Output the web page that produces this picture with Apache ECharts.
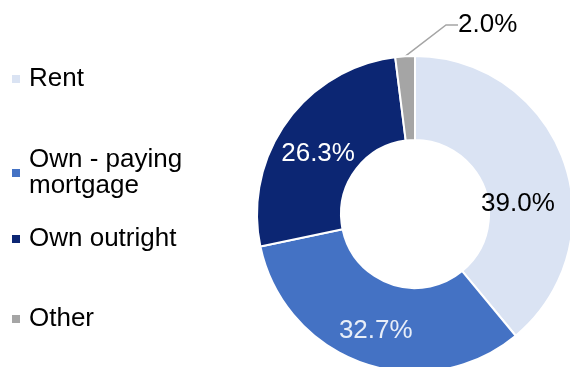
<!DOCTYPE html>
<html>
<head>
<meta charset="utf-8">
<script src="https://cdn.jsdelivr.net/npm/echarts@6/dist/echarts.min.js"></script>
<style>
  html, body { margin: 0; padding: 0; background: #fff; }
  #chart { width: 570px; height: 367px; }
</style>
</head>
<body>
<div id="chart"></div>
<script>
// tenure split
var categories = ['Rent', 'Own - paying\nmortgage', 'Own outright', 'Other'];
var values = [39.0, 32.7, 26.3, 2.0];
var colors = ['#DAE3F3', '#4472C4', '#0C2673', '#A5A5A5'];
var labelColors = ['#000', '#E8EEF8', '#fff', '#000'];

var FONT = '"Liberation Sans", Arial, sans-serif';

var chart = echarts.init(document.getElementById('chart'), null, { renderer: 'canvas' });

// one legend per entry, gaps in the original are uneven
var legendTops = [58, 142, 218, 298];
var legends = categories.map(function (name, i) {
	return {
		data: [name],
		orient: 'vertical',
		left: 5,
		top: legendTops[i],
		icon: 'rect',
		itemWidth: 10,
		itemHeight: 10,
		selectedMode: false,
		textStyle: {
			fontFamily: FONT,
			fontSize: 26,
			lineHeight: 26,
			color: '#000',
			// two-line item: keep the square on the first line
			padding: name.indexOf('\n') >= 0 ? [6, 0, -26, 3] : [6, 0, 0, 3]
		}
	};
});

var pieData = categories.map(function (name, i) {
	var item = {
		name: name,
		value: values[i],
		itemStyle: { color: colors[i] },
		label: { color: labelColors[i] }
	};
	if (i === 3) {
		item.label = { position: 'outside', color: '#000' };
		item.labelLine = {
			show: true,
			length: 30,
			length2: 12,
			lineStyle: { color: '#A5A5A5', width: 1.5 }
		};
	}
	return item;
});

// small nudges so the inner labels sit where the original has them
var labelShift = [[-9, 30], [0, 4], [0, 9]];

var option = {
	animation: false,
	legend: legends,
	series: [{
		type: 'pie',
		center: [415, 214],
		radius: [74, 158],
		startAngle: 90,
		clockwise: true,
		silent: true,
		itemStyle: {
			borderColor: '#fff',
			borderWidth: 2
		},
		label: {
			show: true,
			position: 'inside',
			fontFamily: FONT,
			fontSize: 26,
			formatter: function (p) {
				return p.value.toFixed(1) + '%';
			}
		},
		labelLine: { show: false },
		labelLayout: function (params) {
			var i = params.dataIndex;
			if (i === 3) {
				return { x: 458, y: 25, align: 'left', verticalAlign: 'middle' };
			}
			return { dx: labelShift[i][0], dy: labelShift[i][1] };
		},
		data: pieData
	}]
};

chart.setOption(option);
</script>
</body>
</html>
